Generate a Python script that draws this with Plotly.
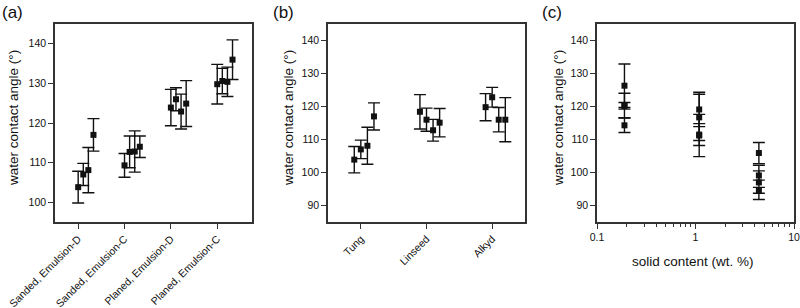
import plotly.graph_objects as go

# ---------------- data ----------------
a_categories = ["Sanded, Emulsion-D", "Sanded, Emulsion-C", "Planed, Emulsion-D", "Planed, Emulsion-C"]
a_values = [[103.8, 107.0, 108.1, 117.0],
            [109.3, 112.7, 112.8, 114.0],
            [123.9, 126.0, 122.9, 124.9],
            [129.8, 130.6, 130.4, 136.0]]
a_errors = [[4.0, 2.8, 5.7, 4.1],
            [3.0, 4.0, 5.2, 2.7],
            [4.6, 2.9, 4.4, 5.8],
            [5.0, 3.2, 3.7, 5.0]]

b_categories = ["Tung", "Linseed", "Alkyd"]
b_values = [[103.9, 107.0, 108.1, 117.0],
            [118.4, 116.0, 112.8, 115.1],
            [119.8, 122.8, 116.0, 116.0]]
b_errors = [[4.0, 2.8, 5.6, 4.1],
            [5.2, 3.5, 3.3, 4.3],
            [4.1, 3.0, 3.7, 6.7]]

c_solid = [0.19, 1.09, 4.4]
c_values = [[126.3, 120.3, 120.2, 114.3],
            [119.1, 116.7, 111.2, 111.5],
            [105.9, 99.1, 97.0, 94.6]]
c_errors = [[6.6, 3.7, 1.0, 2.2],
            [5.2, 7.0, 6.4, 3.3],
            [3.2, 1.4, 5.2, 0.9]]

# within-group horizontal jitter (category units)
a_offsets = [0.0, 0.11, 0.22, 0.33]
b_offsets = [-0.1, 0.0, 0.1, 0.2]

FONT = "Arial, Liberation Sans, sans-serif"
INK = "#111111"
AX = "#333333"
W, H = 800, 308


def px_x(p):
    return p / W


def px_y(p):
    return 1 - p / H


fig = go.Figure()


def add_panel(xs, ys, es, xaxis, yaxis):
    fig.add_trace(go.Scatter(
        x=xs, y=ys, mode="markers", xaxis=xaxis, yaxis=yaxis,
        marker=dict(symbol="square", size=6, color=INK),
        error_y=dict(type="data", array=es, visible=True, color=INK,
                     thickness=1.4, width=6),
        showlegend=False, hoverinfo="x+y"))


# panel a
xs, ys, es = [], [], []
for i, (vals, errs) in enumerate(zip(a_values, a_errors)):
    for off, v, e in zip(a_offsets, vals, errs):
        xs.append(i + off); ys.append(v); es.append(e)
add_panel(xs, ys, es, "x", "y")

# panel b
xs, ys, es = [], [], []
for i, (vals, errs) in enumerate(zip(b_values, b_errors)):
    for off, v, e in zip(b_offsets, vals, errs):
        xs.append(i + off); ys.append(v); es.append(e)
add_panel(xs, ys, es, "x2", "y2")

# panel c
xs, ys, es = [], [], []
for s, vals, errs in zip(c_solid, c_values, c_errors):
    for v, e in zip(vals, errs):
        xs.append(s); ys.append(v); es.append(e)
add_panel(xs, ys, es, "x3", "y3")

ydom = [px_y(222), px_y(24)]
common_axis = dict(showline=True, linecolor=AX, linewidth=1.5, mirror=True,
                   ticks="outside", ticklen=5, tickwidth=1.3, tickcolor=AX,
                   showgrid=False, zeroline=False, automargin=False,
                   tickfont=dict(family=FONT, size=10.5, color=INK))
cat_axis = dict(common_axis)
cat_axis["tickfont"] = dict(family=FONT, size=10.5, color=INK)

fig.update_layout(
    width=W, height=H, margin=dict(l=0, r=0, t=0, b=0, pad=0, autoexpand=False),
    paper_bgcolor="white", plot_bgcolor="white",
    font=dict(family=FONT, color=INK),
    xaxis=dict(domain=[px_x(55), px_x(252)], range=[-0.5, 3.75],
               tickmode="array", tickvals=list(range(len(a_categories))),
               ticktext=a_categories, tickangle=-45, anchor="y", **cat_axis),
    yaxis=dict(domain=ydom, range=[95, 145], dtick=10, tick0=100, anchor="x",
               **common_axis),
    xaxis2=dict(domain=[px_x(328), px_x(525)], range=[-0.5, 2.5],
                tickmode="array", tickvals=list(range(len(b_categories))),
                ticktext=b_categories, tickangle=-45, anchor="y2", **cat_axis),
    yaxis2=dict(domain=ydom, range=[85, 145], dtick=10, tick0=90, anchor="x2",
                **common_axis),
    xaxis3=dict(domain=[px_x(597), px_x(794)], type="log", range=[-1, 1],
                tickmode="array", tickvals=[0.1, 1, 10], ticktext=["0.1", "1", "10"],
                minor=dict(ticks="outside", ticklen=3, tickwidth=1.2, tickcolor=AX,
                           tickmode="array",
                           tickvals=[0.2, 0.3, 0.4, 0.5, 0.6, 0.7, 0.8, 0.9,
                                     2, 3, 4, 5, 6, 7, 8, 9]),
                anchor="y3", **common_axis),
    yaxis3=dict(domain=ydom, range=[85, 145], dtick=10, tick0=90, anchor="x3",
                **common_axis),
)

annos = [
    dict(text="(a)", x=px_x(0), y=px_y(1), xanchor="left", yanchor="top", size=17),
    dict(text="(b)", x=px_x(271), y=px_y(1), xanchor="left", yanchor="top", size=17),
    dict(text="(c)", x=px_x(540), y=px_y(1), xanchor="left", yanchor="top", size=17),
]
for a in annos:
    fig.add_annotation(text=a["text"], x=a["x"], y=a["y"], xref="paper", yref="paper",
                       xanchor=a["xanchor"], yanchor=a["yanchor"], showarrow=False,
                       font=dict(family=FONT, size=a["size"], color=INK))

ytitle = "water contact angle (°)"
for xc in (13, 288, 558):
    fig.add_annotation(text=ytitle, x=px_x(xc), y=px_y(118), xref="paper", yref="paper",
                       xanchor="center", yanchor="middle", textangle=-90, showarrow=False,
                       font=dict(family=FONT, size=13.5, color=INK))

fig.add_annotation(text="solid content (wt. %)", x=px_x(693), y=px_y(261),
                   xref="paper", yref="paper", xanchor="center", yanchor="middle",
                   showarrow=False, font=dict(family=FONT, size=13.5, color=INK))

fig.write_html("out.html",
               config={"displayModeBar": False},
               post_script="document.body.style.margin='0';document.body.style.overflow='hidden';")
